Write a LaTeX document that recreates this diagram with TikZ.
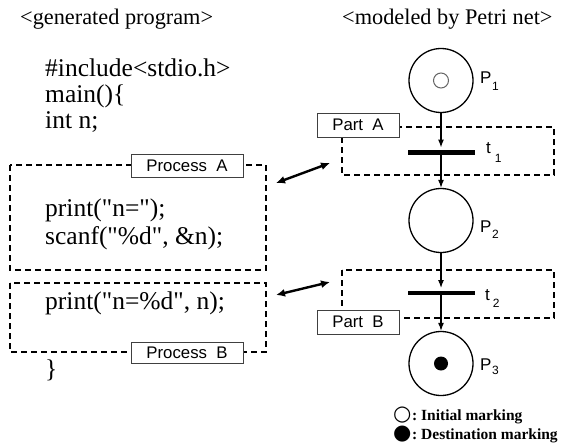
\documentclass[tikz,border=0pt]{standalone}
\usepackage{fontspec}
\setmainfont{Liberation Serif}
\setsansfont{Liberation Sans}
\newfontfamily\symfont{DejaVu Sans}
% program listing: keep the typed quote characters straight
\newfontfamily\codefont{Liberation Serif}[Ligatures=TeXOff]
\usetikzlibrary{arrows.meta}

\tikzset{
  code/.style={anchor=base west, inner sep=0pt, font=\codefont\fontsize{25.5}{26}\selectfont},
  head/.style={anchor=base west, inner sep=0pt, font=\fontsize{22.3}{24}\selectfont},
  tag/.style={draw=black!75, line width=0.9pt, fill=white, inner sep=0pt,
              font=\sffamily\fontsize{16.8}{17}\selectfont},
  region/.style={draw, line width=1.3pt, dash pattern=on 6pt off 4pt},
  place/.style={circle, draw, line width=1.3pt, minimum size=64pt, inner sep=0pt},
  trans/.style={rectangle, fill=black, minimum width=67pt, minimum height=4.5pt, inner sep=0pt},
  flow/.style={line width=1.2pt, -{Latex[length=8pt,width=6pt]}},
  link/.style={line width=2.4pt, {Latex[length=9pt,width=8pt]}-{Latex[length=9pt,width=8pt]}},
  lab/.style={anchor=base west, inner sep=0pt, font=\sffamily\fontsize{17}{17}\selectfont},
  legend/.style={anchor=base west, inner sep=0pt, font=\bfseries\fontsize{15.5}{16}\selectfont}
}
\newcommand\subnum[2]{\raisebox{-#1}{\fontsize{12}{12}\selectfont #2}}
\newcommand\marksym[1]{{\symfont\fontsize{21}{21}\selectfont #1}}

\begin{document}
\begin{tikzpicture}[x=1pt, y=-1pt]
\useasboundingbox (0,0) rectangle (567,444);

% headings
\node[head] (h1) at (20,25) {<generated program>};
\node[head] (h2) at (342,25) {<modeled by Petri net>};

% program text
\node[code] (c1) at (45,76) {\#include<stdio.h>};
\node[code] (c2) at (45,102) {main()\{};
\node[code] (c3) at (45,128) {int n;};
\node[code] (c4) at (45,216) {print("n=");};
\node[code] (c5) at (45,244) {scanf("\%d", \&n);};
\node[code] (c6) at (45,309) {print("n=\%d", n);};
\node[code] (c7) at (45,377) {\}};

% process regions of the program
\draw[region] (10,165) rectangle (266,270);
\draw[region] (10,283) rectangle (266,352);
\node[tag, minimum width=112pt, minimum height=23pt] (pa) at (187,165.5) {Process~~A};
\node[tag, minimum width=112pt, minimum height=21pt] (pb) at (187,352.5) {Process~~B};

% parts of the net
\draw[region] (342,127) rectangle (554,175);
\draw[region] (342,270) rectangle (554,318);
\node[tag, minimum width=82pt, minimum height=24pt] (qa) at (358,125) {Part~~A};
\node[tag, minimum width=82pt, minimum height=24pt] (qb) at (358,322) {Part~~B};

% places and transitions
\node[place] (p1) at (441,80.5) {};
\node[place] (p2) at (441,220.5) {};
\node[place] (p3) at (441,363.5) {};
\node[trans] (t1) at (441,152.5) {};
\node[trans] (t2) at (441,293) {};

% markings
\node[circle, draw=black!60, line width=1pt, minimum size=15pt, inner sep=0pt] (m1) at (p1) {};
\node[circle, fill=black, minimum size=14pt, inner sep=0pt] (m3) at (p3) {};

% arcs
\draw[flow, shorten >=2.5pt] (p1) -- (t1);
\draw[flow] (t1) -- (p2);
\draw[flow, shorten >=2.5pt] (p2) -- (t2);
\draw[flow] (t2) -- (p3);

% labels
\node[lab] (l1) at (480,83) {P\kern0.5pt\subnum{7pt}{1}};
\node[lab] (l2) at (480,232) {P\kern0.5pt\subnum{6pt}{2}};
\node[lab] (l3) at (480,370) {P\kern0.5pt\subnum{4pt}{3}};
\node[lab] (tl1) at (486,153) {t\kern4pt\subnum{9pt}{1}};
\node[lab] (tl2) at (485,300) {t\kern3pt\subnum{7pt}{2}};

% correspondences
\coordinate (aL) at (276,183);
\coordinate (aR) at (330,163);
\coordinate (bL) at (276,295);
\coordinate (bR) at (330,282);
\draw[link] (aL) -- (aR);
\draw[link] (bL) -- (bR);

% legend
\node[legend] (g1) at (393,420) {\marksym{○}\kern0.5pt:\kern4pt Initial marking};
\node[legend] (g2) at (393,439) {\marksym{●}\kern0.5pt:\kern4pt Destination marking};
\end{tikzpicture}
\end{document}
